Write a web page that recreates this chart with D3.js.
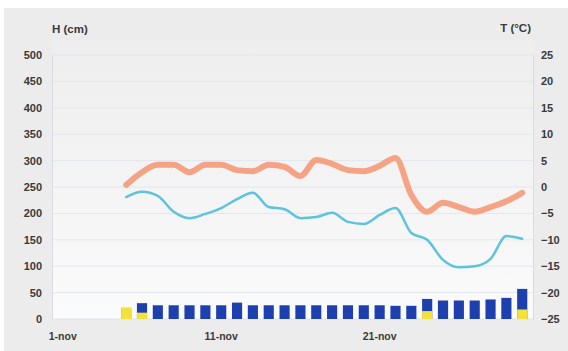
<!DOCTYPE html>
<html>
<head>
<meta charset="utf-8">
<script src="https://cdn.jsdelivr.net/npm/d3@7"></script>
<style>
  html, body { margin: 0; padding: 0; background: #ffffff; }
  svg { display: block; }
  text { font-family: "Liberation Sans", Arial, sans-serif; font-weight: bold; fill: #3a3a3a; }
</style>
</head>
<body>
<svg id="chart" width="568" height="351"></svg>
<script>
// Days of November shown on the x axis
const days = d3.range(1, 31).map(d => d + "-nov");
const dayTicks = ["1-nov", "11-nov", "21-nov"];

// Snow depth (cm), blue bars
const snowDepth = [null, null, null, null, 20, 30, 26, 26, 26, 26,
                   26, 31, 26, 26, 26, 26, 26, 26, 26, 26,
                   26, 25, 25, 38, 35, 35, 35, 37, 40, 57];
// Fresh snow (cm), yellow bars
const freshSnow = [null, null, null, null, 22, 12, null, null, null, null,
                   null, null, null, null, null, null, null, null, null, null,
                   null, null, null, 15, null, null, null, null, null, 18];
// Maximum temperature (°C)
const tMax = [null, null, null, null, 0.4, 2.8, 4.2, 4.2, 2.8, 4.2,
              4.2, 3.2, 3.0, 4.2, 3.8, 2.1, 5.1, 4.4, 3.2, 3.0,
              4.0, 5.5, -1.5, -4.7, -3.0, -3.8, -4.7, -3.8, -2.7, -1.1];
// Minimum temperature (°C)
const tMin = [null, null, null, null, -1.9, -0.9, -1.7, -4.7, -5.9, -5.1,
              -4.0, -2.3, -1.1, -3.8, -4.2, -5.9, -5.7, -4.9, -6.6, -7.0,
              -5.3, -4.0, -8.7, -10.0, -13.8, -15.2, -15.0, -13.6, -9.3, -9.8];

const hTicks = d3.range(0, 501, 50);
const tTicks = d3.range(-25, 26, 5);

const svg = d3.select("#chart");
const W = 568, H = 351;
const plotL = 52, plotR = 533, plotT = 55, plotB = 319;

// Frame background
svg.append("rect").attr("x", 4).attr("y", 8).attr("width", W - 4).attr("height", H - 8)
  .attr("fill", "#ececec");

const defs = svg.append("defs");
const grad = defs.append("linearGradient").attr("id", "plotBg")
  .attr("x1", 0).attr("y1", 0).attr("x2", 0).attr("y2", 1);
grad.append("stop").attr("offset", "0%").attr("stop-color", "#eeeeee");
grad.append("stop").attr("offset", "60%").attr("stop-color", "#f5f5f5");
grad.append("stop").attr("offset", "100%").attr("stop-color", "#fbfbfb");

svg.append("rect").attr("x", plotL).attr("y", 40).attr("width", plotR - plotL).attr("height", plotB - 40)
  .attr("fill", "url(#plotBg)");

const x = d3.scaleBand().domain(days).range([plotL, plotR]).padding(0.36);
const yH = d3.scaleLinear().domain([0, 500]).range([plotB, plotT]);
const yT = d3.scaleLinear().domain([-25, 25]).range([plotB, plotT]);

// Horizontal grid lines
svg.append("g").selectAll("line").data(hTicks).join("line")
  .attr("x1", plotL).attr("x2", plotR)
  .attr("y1", d => yH(d)).attr("y2", d => yH(d))
  .attr("stroke", "#e2e8ee").attr("stroke-width", 1);

// Axes
const axL = svg.append("g").attr("transform", `translate(${plotL},0)`)
  .call(d3.axisLeft(yH).tickValues(hTicks).tickSize(0).tickPadding(10));
axL.select(".domain").attr("stroke", "#d6dde4");
axL.selectAll("text").attr("font-size", 11).attr("font-family", null);

const axR = svg.append("g").attr("transform", `translate(${plotR},0)`)
  .call(d3.axisRight(yT).tickValues(tTicks).tickSize(0).tickPadding(8));
axR.select(".domain").attr("stroke", "#d6dde4");
axR.selectAll("text").attr("font-size", 11).attr("font-family", null);

const axB = svg.append("g").attr("transform", `translate(0,${plotB})`)
  .call(d3.axisBottom(x).tickValues(dayTicks).tickSize(0).tickPadding(14));
axB.select(".domain").attr("stroke", "#e4e8ec");
axB.selectAll("text").attr("font-size", 10.5).attr("font-family", null);

// Axis titles
svg.append("text").attr("x", plotL).attr("y", 33).attr("font-size", 11.5).text("H (cm)");
svg.append("text").attr("x", plotR - 2).attr("y", 32).attr("font-size", 11.5)
  .attr("text-anchor", "end").text("T (°C)");

// Snow depth bars
svg.append("g").selectAll("rect").data(days.map((d, i) => [d, snowDepth[i]]).filter(p => p[1] != null))
  .join("rect")
  .attr("x", p => x(p[0])).attr("width", x.bandwidth())
  .attr("y", p => yH(p[1])).attr("height", p => yH(0) - yH(p[1]))
  .attr("fill", "#1e3fae");

// Fresh snow bars
svg.append("g").selectAll("rect").data(days.map((d, i) => [d, freshSnow[i]]).filter(p => p[1] != null))
  .join("rect")
  .attr("x", p => x(p[0])).attr("width", x.bandwidth())
  .attr("y", p => yH(p[1])).attr("height", p => yH(0) - yH(p[1]))
  .attr("fill", "#f3e23a");

// Temperature lines
const cx = d => x(d) + x.bandwidth() / 2;
const line = d3.line()
  .defined(p => p[1] != null)
  .x(p => cx(p[0])).y(p => yT(p[1]))
  .curve(d3.curveMonotoneX);

svg.append("path").datum(days.map((d, i) => [d, tMax[i]]))
  .attr("d", line).attr("fill", "none")
  .attr("stroke", "#f4a384").attr("stroke-width", 6)
  .attr("stroke-linejoin", "round").attr("stroke-linecap", "round");

svg.append("path").datum(days.map((d, i) => [d, tMin[i]]))
  .attr("d", line).attr("fill", "none")
  .attr("stroke", "#5ec3dc").attr("stroke-width", 2.5)
  .attr("stroke-linejoin", "round").attr("stroke-linecap", "round");
</script>
</body>
</html>
